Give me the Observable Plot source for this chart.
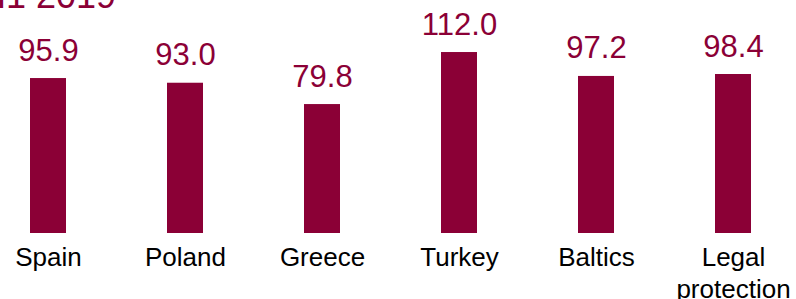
<!DOCTYPE html>
<html>
<head>
<meta charset="utf-8">
<script src="https://cdn.jsdelivr.net/npm/d3@7"></script>
<script src="https://cdn.jsdelivr.net/npm/@observablehq/plot@0.6"></script>
<style>
  html, body { margin: 0; padding: 0; background: #fff; overflow: hidden; }
  #wrap { position: relative; width: 796px; height: 299px; overflow: hidden; font-family: "Liberation Sans", Arial, sans-serif; }
  #title { position: absolute; left: -20px; top: -22.5px; font-size: 36px; line-height: 36px; color: #8B0036; white-space: nowrap; }
  #chart { position: absolute; left: 0; top: 0; }
</style>
</head>
<body>
<div id="wrap">
  <div id="chart"></div>
  <div id="title">H1 2019</div>
</div>
<script>
const categories = ["Spain", "Poland", "Greece", "Turkey", "Baltics", "Legal\nprotection"];
const values = [95.9, 93.0, 79.8, 112.0, 97.2, 98.4];
const labels = ["95.9", "93.0", "79.8", "112.0", "97.2", "98.4"];

const data = categories.map((c, i) => ({category: c, value: values[i], label: labels[i]}));
const color = "#8B0036";

const chart = Plot.plot({
  width: 796,
  height: 299,
  marginTop: 0,
  marginBottom: 66,
  marginLeft: 28,
  marginRight: 43.5,
  style: {fontFamily: "'Liberation Sans', Arial, sans-serif", background: "transparent"},
  x: {domain: categories, paddingInner: 0.739, paddingOuter: 0, axis: null},
  y: {domain: [0, 144.2], axis: null},
  marks: [
    Plot.barY(data, {x: "category", y: "value", fill: color}),
    Plot.text(data, {x: "category", y: "value", text: "label", fill: color, fontSize: 31, lineAnchor: "bottom", dy: -18}),
    Plot.axisX({tickSize: 0, tickPadding: 9, fontSize: 26, lineHeight: 1.25, fill: "#000", label: null})
  ]
});
document.getElementById("chart").appendChild(chart);
</script>
</body>
</html>
